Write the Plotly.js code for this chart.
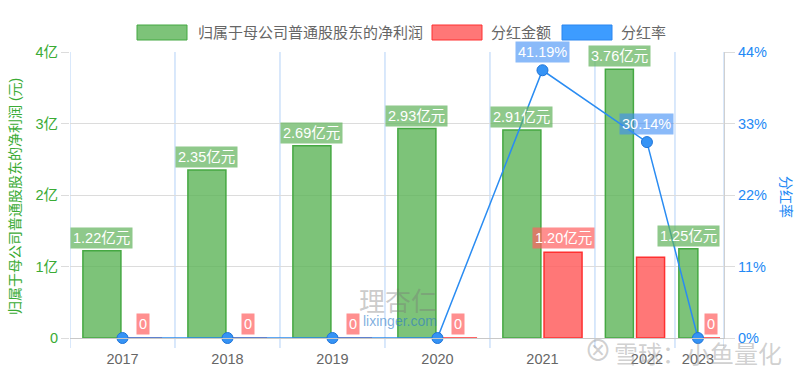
<!DOCTYPE html>
<html>
<head>
<meta charset="utf-8">
<script src="https://cdn.plot.ly/plotly-3.0.1.min.js"></script>
<style>html,body{margin:0;padding:0;background:#fff;}#chart{width:800px;height:374px;}</style>
</head>
<body>
<div id="chart"></div>
<script>
// ---- data ----
const years = ['2017', '2018', '2019', '2020', '2021', '2022', '2023'];
const netProfit = [1.22, 2.35, 2.69, 2.93, 2.91, 3.76, 1.25];   // 亿元
const dividend = [0, 0, 0, 0, 1.20, 1.13, 0];                  // 亿元
const payoutRatio = [0, 0, 0, 0, 41.19, 30.14, 0];             // %
const leftTickVals = [0, 1, 2, 3, 4];
const leftTickText = ['0', '1亿', '2亿', '3亿', '4亿'];
const rightTickVals = [0, 11, 22, 33, 44];
const rightTickText = ['0%', '11%', '22%', '33%', '44%'];
const seriesNames = ['归属于母公司普通股股东的净利润', '分红金额', '分红率'];

// ---- geometry (layout only) ----
const groupCenter = [0.5, 1.5, 2.5, 3.5, 4.5, 5.381, 5.995];
const groupBarW = [0.362, 0.362, 0.362, 0.362, 0.362, 0.267, 0.181];
const lineX = [0.5, 1.5, 2.5, 3.5, 4.5, 5.495, 5.981];
const bandEdges = [0, 1, 2, 3, 4, 5, 5.762, 6.229];
const GAP = 0.03;
const greenX = groupCenter.map((c, i) => c - (groupBarW[i] + GAP) / 2);
const redX = groupCenter.map((c, i) => c + (groupBarW[i] + GAP) / 2);
const hiddenRedLabels = [5];

const FONT = '"Liberation Sans", Arial, "Noto Sans CJK SC", sans-serif';
const CJK = '"Noto Sans CJK SC", sans-serif';
const GREEN_TXT = '#3aab35';
const BLUE_TXT = '#2389f5';

const traces = [
  {
    type: 'bar', name: seriesNames[0], x: greenX, y: netProfit, width: groupBarW,
    marker: {color: 'rgba(92,180,88,0.8)', line: {color: '#45a842', width: 1.5}},
    showlegend: false, hoverinfo: 'none'
  },
  {
    type: 'bar', name: seriesNames[1], x: redX, y: dividend, width: groupBarW,
    marker: {color: 'rgba(255,95,95,0.85)', line: {color: '#ff3030', width: 1.5}},
    showlegend: false, hoverinfo: 'none'
  },
  {
    type: 'scatter', mode: 'lines+markers', name: seriesNames[2], x: lineX, y: payoutRatio, yaxis: 'y2',
    line: {color: '#2a8cf2', width: 1.5},
    marker: {size: 11, color: '#3593f5', line: {color: '#1f74d8', width: 1}},
    showlegend: false, hoverinfo: 'none', cliponaxis: false
  }
];

const L = 70, R = 724, T = 52, B = 338;
const px = v => (v - L) / (R - L);
const py = v => (B - v) / (B - T);

const shapes = [];
// vertical light-blue band lines
bandEdges.forEach(e => {
  shapes.push({type: 'line', xref: 'x', yref: 'paper', x0: e, x1: e, y0: py(348), y1: 1,
    line: {color: '#b3d1f7', width: 1}, layer: 'below'});
});
// legend boxes
const legendBoxes = [
  {x0: 137, fill: 'rgba(92,180,88,0.8)', line: '#45a842'},
  {x0: 432, fill: 'rgba(255,95,95,0.85)', line: '#ff3030'},
  {x0: 562, fill: '#3d9cff', line: '#2a86f0'}
];
const legendTextX = [196, 489, 619];
legendBoxes.forEach(b => {
  shapes.push({type: 'rect', xref: 'paper', yref: 'paper', x0: px(b.x0), x1: px(b.x0 + 50), y0: py(40), y1: py(25),
    fillcolor: b.fill, line: {color: b.line, width: 1}});
});

const annotations = [];
seriesNames.forEach((n, i) => {
  annotations.push({xref: 'paper', yref: 'paper', x: px(legendTextX[i]), y: py(32.5), xanchor: 'left', yanchor: 'middle',
    text: n, showarrow: false, font: {family: FONT, size: 15, color: '#666'}});
});
// axis titles
annotations.push({xref: 'paper', yref: 'paper', x: px(15), y: py(197), textangle: -90, xanchor: 'center', yanchor: 'middle',
  text: '归属于母公司普通股股东的净利润 (元)', showarrow: false, font: {family: FONT, size: 14, color: GREEN_TXT}});
annotations.push({xref: 'paper', yref: 'paper', x: px(786), y: py(197), textangle: 90, xanchor: 'center', yanchor: 'middle',
  text: '分红率', showarrow: false, font: {family: FONT, size: 14, color: BLUE_TXT}});

// watermarks
annotations.push({xref: 'paper', yref: 'paper', x: px(398), y: py(299), xanchor: 'center', yanchor: 'middle',
  text: '理杏仁', showarrow: false,
  font: {family: CJK, size: 26, color: 'rgba(120,120,120,0.4)'}});
annotations.push({xref: 'paper', yref: 'paper', x: px(400), y: py(321), xanchor: 'center', yanchor: 'middle',
  text: 'lixinger.com', showarrow: false,
  font: {family: FONT, size: 14, color: 'rgba(40,120,200,0.6)'}});
annotations.push({xref: 'paper', yref: 'paper', x: px(598), y: py(351), xanchor: 'center', yanchor: 'middle',
  text: '⊗', showarrow: false,
  font: {family: FONT, size: 28, color: 'rgba(150,150,150,0.45)'}});
annotations.push({xref: 'paper', yref: 'paper', x: px(698), y: py(352), xanchor: 'center', yanchor: 'middle',
  text: '雪球：小鱼量化', showarrow: false,
  font: {family: CJK, size: 24, color: 'rgba(150,150,150,0.45)'}});

// data labels
netProfit.forEach((v, i) => {
  annotations.push({xref: 'x', yref: 'y', x: greenX[i], y: v, yanchor: 'bottom', xanchor: 'center', yshift: 2,
    text: v.toFixed(2) + '亿元', showarrow: false, bgcolor: 'rgba(95,178,90,0.7)', borderpad: 2,
    font: {family: FONT, size: 14.5, color: '#fff'}});
});
dividend.forEach((v, i) => {
  if (hiddenRedLabels.includes(i)) return;
  annotations.push({xref: 'x', yref: 'y', x: redX[i], y: v, yanchor: 'bottom', xanchor: 'center', yshift: 3,
    text: v === 0 ? '0' : v.toFixed(2) + '亿元', showarrow: false, bgcolor: 'rgba(255,95,95,0.7)', borderpad: 2,
    font: {family: FONT, size: 14.5, color: '#fff'}});
});
payoutRatio.forEach((v, i) => {
  if (v === 0) return;
  annotations.push({xref: 'x', yref: 'y2', x: lineX[i], y: v, yanchor: 'bottom', xanchor: 'center', yshift: 7,
    text: v.toFixed(2) + '%', showarrow: false, bgcolor: 'rgba(60,140,245,0.6)', borderpad: 2,
    font: {family: FONT, size: 14.5, color: '#fff'}});
});

const layout = {
  width: 800, height: 374,
  margin: {l: L, r: 800 - R, t: T, b: 374 - B, pad: 0},
  paper_bgcolor: '#fff', plot_bgcolor: '#fff',
  barmode: 'overlay',
  showlegend: false,
  font: {family: FONT},
  xaxis: {
    range: [0, bandEdges[bandEdges.length - 1]], tickvals: lineX, ticktext: years,
    showgrid: false, zeroline: false, ticks: '', showline: true, linecolor: '#c8c8c8', linewidth: 1,
    tickfont: {family: FONT, size: 14.5, color: '#666'}, fixedrange: true, ticklabelstandoff: 8
  },
  yaxis: {
    range: [0, 4], tickvals: leftTickVals, ticktext: leftTickText,
    showgrid: true, gridcolor: '#dcdcdc', zeroline: false, showline: false,
    ticks: 'outside', ticklen: 8, tickcolor: '#dcdcdc',
    tickfont: {family: FONT, size: 14.5, color: GREEN_TXT}, fixedrange: true
  },
  yaxis2: {
    overlaying: 'y', side: 'right', range: [0, 44], tickvals: rightTickVals, ticktext: rightTickText,
    showgrid: false, zeroline: false, showline: true, linecolor: '#d0d0d0',
    ticks: 'outside', ticklen: 10, tickcolor: '#dcdcdc',
    tickfont: {family: FONT, size: 14.5, color: BLUE_TXT}, fixedrange: true
  },
  shapes: shapes,
  annotations: annotations
};

Plotly.newPlot('chart', traces, layout, {displayModeBar: false, staticPlot: true});
</script>
</body>
</html>
